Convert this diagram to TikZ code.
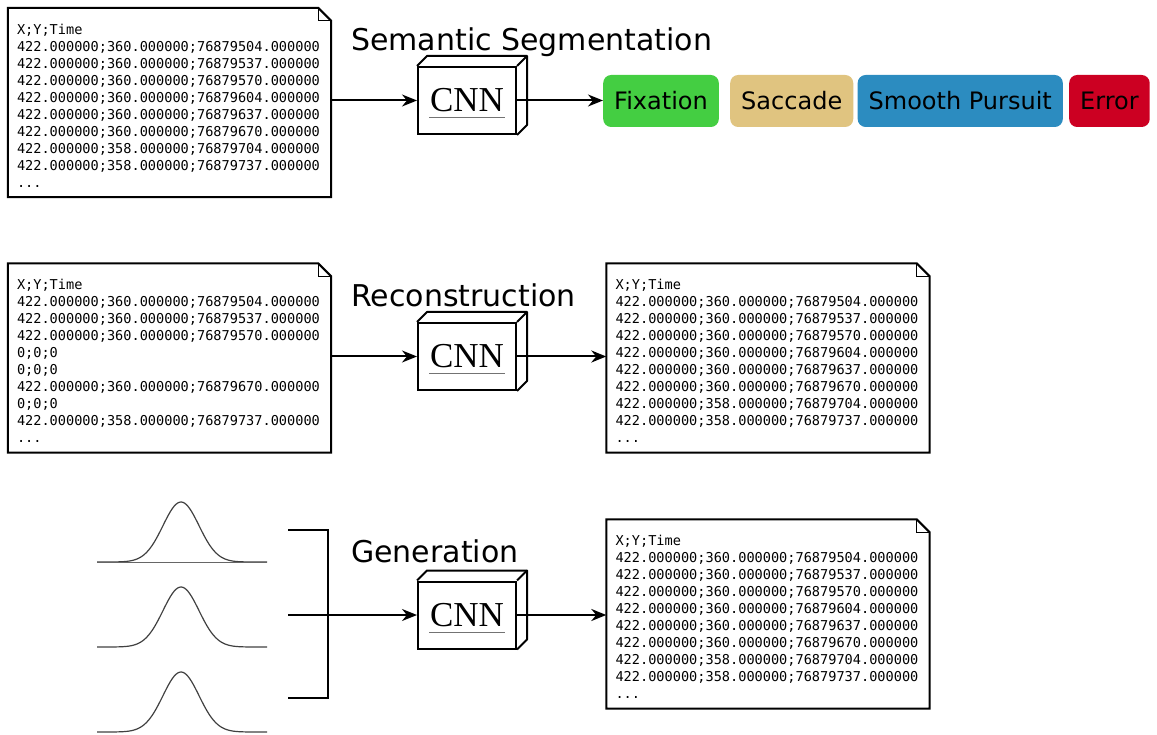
\documentclass[tikz,border=0pt]{standalone}
\usepackage{fontspec}
\setsansfont{DejaVu Sans}
\newfontfamily\datafont{DejaVu Sans Mono}
\newfontfamily\cnnfont{Liberation Serif}
\usetikzlibrary{arrows.meta, positioning, calc}

\definecolor{fixgreen}{RGB}{68,206,66}
\definecolor{saccadetan}{RGB}{224,196,128}
\definecolor{pursuitblue}{RGB}{44,140,192}
\definecolor{errorred}{RGB}{204,0,34}

\tikzset{
    datafile/.style={minimum width=323pt, minimum height=189pt, text width=305pt,
                     align=left, inner sep=0pt, font=\datafont\fontsize{13.6}{17}\selectfont},
    docline/.style={line width=2pt, line join=miter},
    cnnbox/.style={rectangle, draw, line width=2pt, minimum width=98pt, minimum height=67pt,
                   inner sep=0pt, font=\cnnfont\fontsize{35}{38}\selectfont},
    tasklabel/.style={anchor=base west, inner sep=0pt, font=\sffamily\fontsize{30}{34}\selectfont},
    eventbox/.style={rectangle, rounded corners=8pt, minimum height=52pt, inner xsep=11pt,
                     font=\sffamily\fontsize{24}{28}\selectfont},
    arrow/.style={-{Stealth[length=15pt, width=12pt]}, line width=2pt},
    bracket/.style={line width=2.2pt},
    gauss/.style={line width=1.2pt, black!75},
}

% folded page outline round a data node (text sits 3pt low in it)
\newcommand{\docframe}[1]{%
    \draw[docline] ([yshift=3pt]#1.north west) -- ([shift={(-13pt,3pt)}]#1.north east)
        -- ([yshift=-10pt]#1.north east) -- ([yshift=3pt]#1.south east)
        -- ([yshift=3pt]#1.south west) -- cycle;
    \draw[line width=0.9pt] ([shift={(-13pt,3pt)}]#1.north east) |- ([yshift=-10pt]#1.north east);
}
% depth faces and underline of a CNN box
\newcommand{\cnndepth}[1]{%
    \draw[line width=2pt, line join=round] (#1.north west) -- ++(10pt,10pt)
        -- ($(#1.north east)+(10pt,10pt)$) -- ($(#1.south east)+(10pt,10pt)$) -- (#1.south east);
    \draw[line width=2pt] (#1.north east) -- ++(10pt,10pt);
    \draw[black!55, line width=1pt] ($(#1.center)+(-38pt,-17.5pt)$) -- ($(#1.center)+(38pt,-17.5pt)$);
}

\begin{document}
\begin{tikzpicture}[x=1pt, y=-1pt]

    \useasboundingbox (0,0) rectangle (1157,735);

    % ── SEMANTIC SEGMENTATION ──
    \node[datafile] (segin) at (169.5,105.5) {X;Y;Time\\
        422.000000;360.000000;76879504.000000\\
        422.000000;360.000000;76879537.000000\\
        422.000000;360.000000;76879570.000000\\
        422.000000;360.000000;76879604.000000\\
        422.000000;360.000000;76879637.000000\\
        422.000000;360.000000;76879670.000000\\
        422.000000;358.000000;76879704.000000\\
        422.000000;358.000000;76879737.000000\\
        ...};
    \docframe{segin}

    \node[cnnbox] (segcnn) at (467,100.5) {CNN};
    \cnndepth{segcnn}
    \node[tasklabel] (seglbl) at (351,51) {Semantic Segmentation};

    \node[eventbox, fill=fixgreen] (fix) at (661,101) {Fixation};
    \node[eventbox, fill=saccadetan, right=11pt of fix] (sac) {Saccade};
    \node[eventbox, fill=pursuitblue, right=4pt of sac] (sp) {Smooth Pursuit};
    \node[eventbox, fill=errorred, right=6pt of sp] (err) {Error};

    \draw[arrow] (segin.east |- segcnn.west) -- (segcnn.west);
    \draw[arrow] (segcnn.east) -- (segcnn.east -| fix.west);

    % ── RECONSTRUCTION ──
    \node[datafile] (recin) at (169.5,361) {X;Y;Time\\
        422.000000;360.000000;76879504.000000\\
        422.000000;360.000000;76879537.000000\\
        422.000000;360.000000;76879570.000000\\
        0;0;0\\
        0;0;0\\
        422.000000;360.000000;76879670.000000\\
        0;0;0\\
        422.000000;358.000000;76879737.000000\\
        ...};
    \docframe{recin}

    \node[cnnbox] (reccnn) at (467,356.5) {CNN};
    \cnndepth{reccnn}
    \node[tasklabel] (reclbl) at (351,307) {Reconstruction};

    \node[datafile] (recout) at (768,361) {X;Y;Time\\
        422.000000;360.000000;76879504.000000\\
        422.000000;360.000000;76879537.000000\\
        422.000000;360.000000;76879570.000000\\
        422.000000;360.000000;76879604.000000\\
        422.000000;360.000000;76879637.000000\\
        422.000000;360.000000;76879670.000000\\
        422.000000;358.000000;76879704.000000\\
        422.000000;358.000000;76879737.000000\\
        ...};
    \docframe{recout}

    \draw[arrow] (recin.east |- reccnn.west) -- (reccnn.west);
    \draw[arrow] (reccnn.east) -- (reccnn.east -| recout.west);

    % ── GENERATION ──
    \foreach \base in {562,647,732} {
        \draw[gauss] plot[domain=97:267, samples=100, smooth]
            (\x, {\base-60*exp(-0.5*((\x-181)/18)^2)});
    }
    \draw[black!60, line width=0.7pt] (97,562) -- (267,562);

    \coordinate (brtop) at (288,530);
    \coordinate (brmid) at (288,615);
    \coordinate (brbot) at (288,698);
    \draw[bracket] (brtop) -- ++(40,0) |- (brbot);

    \node[cnnbox] (gencnn) at (467,615) {CNN};
    \cnndepth{gencnn}
    \node[tasklabel] (genlbl) at (351,562) {Generation};

    \node[datafile] (genout) at (768,617) {X;Y;Time\\
        422.000000;360.000000;76879504.000000\\
        422.000000;360.000000;76879537.000000\\
        422.000000;360.000000;76879570.000000\\
        422.000000;360.000000;76879604.000000\\
        422.000000;360.000000;76879637.000000\\
        422.000000;360.000000;76879670.000000\\
        422.000000;358.000000;76879704.000000\\
        422.000000;358.000000;76879737.000000\\
        ...};
    \docframe{genout}

    \draw[arrow] (brmid) -- (gencnn.west);
    \draw[arrow] (gencnn.east) -- (gencnn.east -| genout.west);

\end{tikzpicture}
\end{document}
